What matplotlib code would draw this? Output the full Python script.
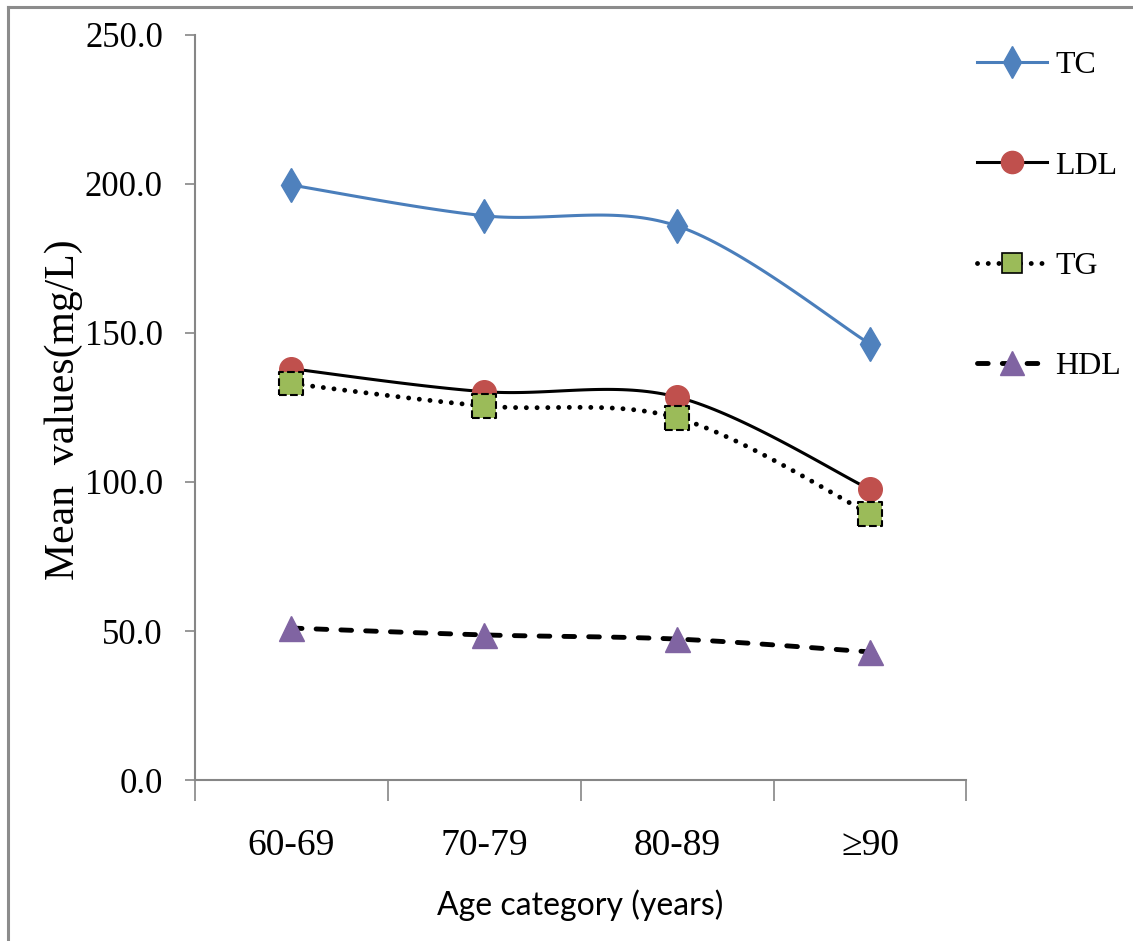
import numpy as np
import matplotlib
matplotlib.use("Agg")
import matplotlib.pyplot as plt
from matplotlib.lines import Line2D

# data
categories = ["60-69", "70-79", "80-89", "\u226590"]
tc = [199.6, 189.3, 185.9, 146.3]
ldl = [138.0, 130.3, 128.5, 97.5]
tg = [133.0, 125.5, 121.5, 89.3]
hdl = [51.0, 48.7, 47.3, 43.0]
yticks = [0, 50, 100, 150, 200, 250]

plt.rcParams['font.family'] = ['Liberation Serif', 'DejaVu Serif']


def smooth(x, y, n=40):
    # excel-like smoothed line (catmull-rom as cubic bezier)
    pts = np.column_stack([x, y]).astype(float)
    t = np.linspace(0, 1, n)[:, None]
    out = []
    for i in range(len(pts) - 1):
        p0 = pts[max(i - 1, 0)]
        p1 = pts[i]
        p2 = pts[i + 1]
        p3 = pts[min(i + 2, len(pts) - 1)]
        c1 = p1 + (p2 - p0) / 6
        c2 = p2 - (p3 - p1) / 6
        seg = ((1 - t) ** 3) * p1 + 3 * ((1 - t) ** 2) * t * c1 + 3 * (1 - t) * t ** 2 * c2 + t ** 3 * p2
        out.append(seg if i == 0 else seg[1:])
    out = np.vstack(out)
    return out[:, 0], out[:, 1]


fig = plt.figure(figsize=(11.33, 9.41), dpi=100)
ax = fig.add_axes([0.172, 0.171, 0.681, 0.792])

x = np.arange(len(categories))

# TC
sx, sy = smooth(x, tc)
ax.plot(sx, sy, color='#4A7EBB', lw=2.2, zorder=3)
ax.plot(x, tc, ls='none', marker='d', ms=17, color='#4F81BD', mec='#4F81BD', zorder=4)

# LDL
sx, sy = smooth(x, ldl)
ax.plot(sx, sy, color='black', lw=2.2, zorder=5)
ax.plot(x, ldl, ls='none', marker='o', ms=17, color='#C0504D', mec='#C0504D', zorder=6)

# TG
sx, sy = smooth(x, tg)
ax.plot(sx, sy, color='black', lw=3.5, ls=(0, (0.01, 2.2)), dash_capstyle='round', zorder=7)
ax.scatter(x, tg, marker='s', s=290, facecolor='#9BBB59', edgecolor='black',
           linewidths=1.5, linestyles='--', zorder=8)

# HDL
sx, sy = smooth(x, hdl)
ax.plot(sx, sy, color='black', lw=3.5, ls=(0, (2.2, 2.9)), dash_capstyle='round', zorder=9)
ax.plot(x, hdl, ls='none', marker='^', ms=18, color='#8064A2', mec='#8064A2', zorder=10)

ax.set_xlim(-0.5, len(categories) - 0.5)
ax.set_ylim(0, 250)
ax.set_yticks(yticks)
ax.set_yticklabels([f"{v:.1f}" for v in yticks], fontsize=25)
ax.set_xticks(x)
ax.set_xticklabels(categories, fontsize=27)
ax.set_xticks(np.arange(len(categories) + 1) - 0.5, minor=True)
ax.tick_params(axis='x', which='major', length=0, pad=35)
ax.tick_params(axis='x', which='minor', length=15, width=1.2, color='#868686')
ax.tick_params(axis='y', length=7, width=1.2, color='#868686', pad=16)

for s in ['top', 'right']:
    ax.spines[s].set_visible(False)
for s in ['left', 'bottom']:
    ax.spines[s].set_color('#868686')
    ax.spines[s].set_linewidth(1.5)

ax.set_ylabel("Mean  values(mg/L)", fontsize=30)
ax.yaxis.set_label_coords(-0.145, 0.497)
ax.set_xlabel("Age category (years)", fontsize=23, family=['Lato', 'DejaVu Sans'], labelpad=19)

handles = [
    Line2D([], [], color='#4A7EBB', lw=2.2, marker='d', ms=16, mfc='#4F81BD', mec='#4F81BD'),
    Line2D([], [], color='black', lw=2.2, marker='o', ms=16, mfc='#C0504D', mec='#C0504D'),
    Line2D([], [], color='black', lw=3.5, ls=(0, (0.01, 2.2)), dash_capstyle='round',
           marker='s', ms=15, mfc='#9BBB59', mec='black', mew=1.2),
    Line2D([], [], color='black', lw=3.5, ls=(0, (2.2, 2.9)), dash_capstyle='round',
           marker='^', ms=17, mfc='#8064A2', mec='#8064A2'),
]
fig.legend(handles, ["TC", "LDL", "TG", "HDL"], loc='upper left',
           bbox_to_anchor=(977 / 1133, 1 - 51 / 941), frameon=False, fontsize=23,
           borderpad=0, borderaxespad=0,
           handlelength=2.2, handletextpad=0.25, labelspacing=2.22)

# grey border around the picture
fig.add_artist(Line2D([8 / 1133, 8 / 1133], [0, 1 - 7 / 941], color='#8c8c8c', lw=2.2))
fig.add_artist(Line2D([8 / 1133, 1], [1 - 7 / 941, 1 - 7 / 941], color='#8c8c8c', lw=2.2))

fig.savefig("out.png", dpi=100)
